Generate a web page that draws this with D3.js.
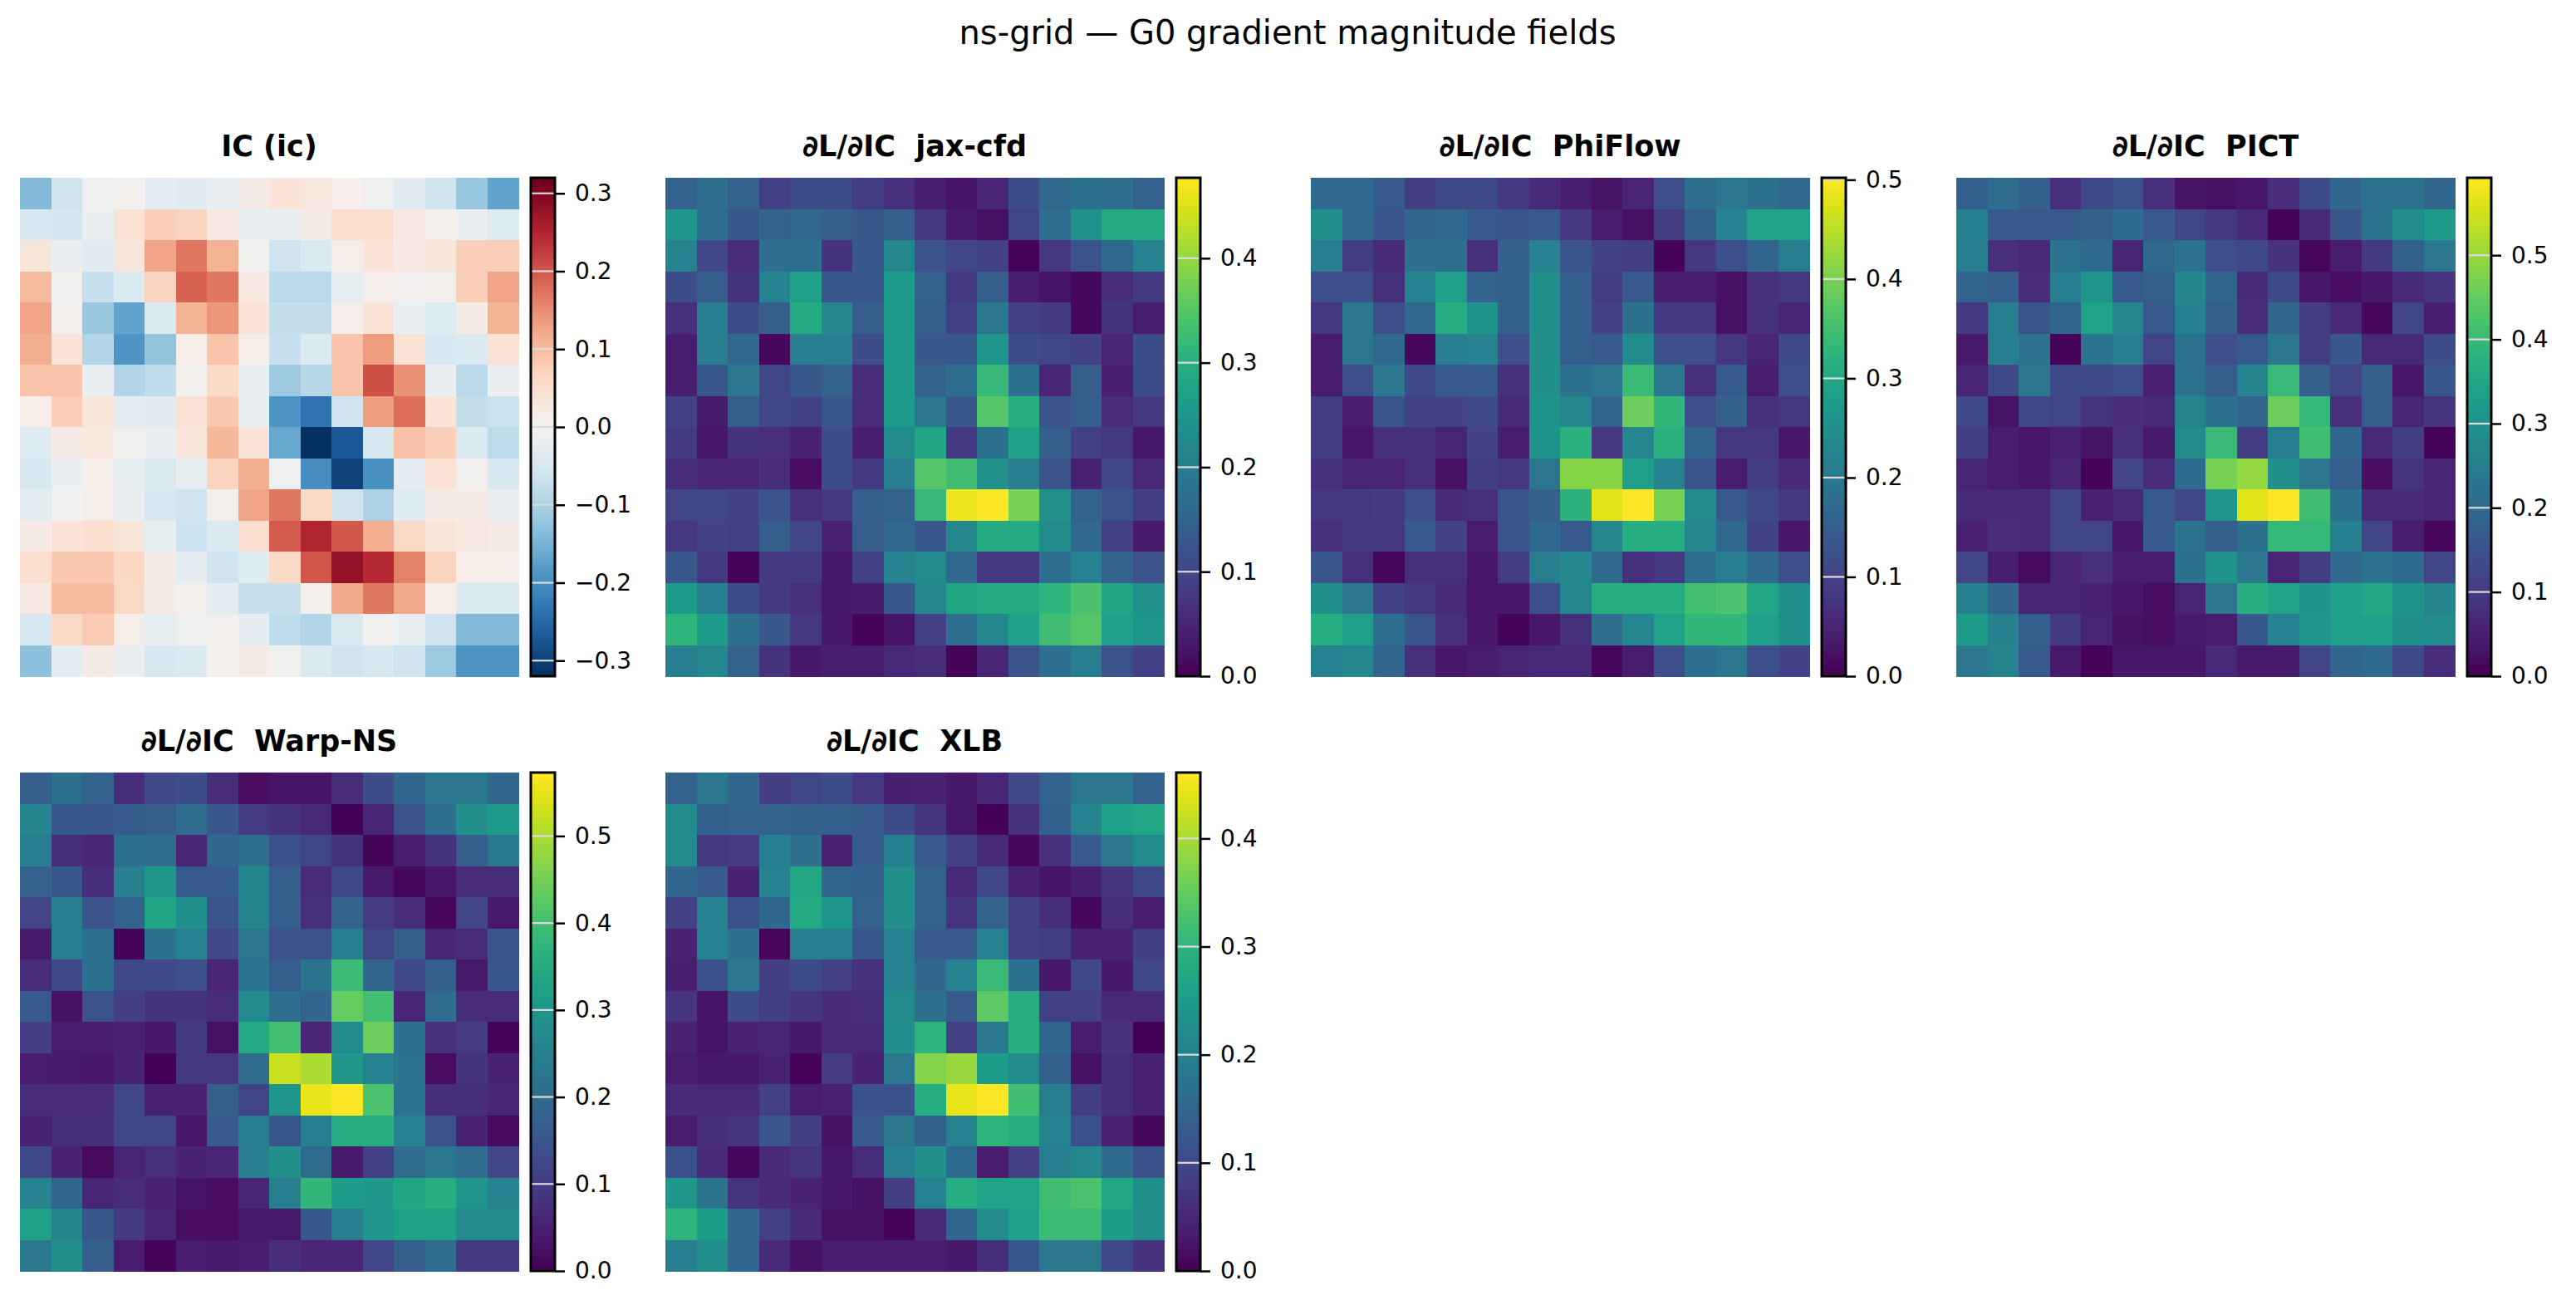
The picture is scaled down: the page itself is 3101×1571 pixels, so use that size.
<!DOCTYPE html>
<html>
<head>
<meta charset="utf-8">
<script src="https://cdn.jsdelivr.net/npm/d3@7"></script>
<style>
  html, body { margin: 0; padding: 0; background: #fff; }
  svg { display: block; }
  text { font-family: "DejaVu Sans", sans-serif; }
</style>
</head>
<body>
<div id="chart"></div>
<script>
// ---------------- DATA ----------------
const figureTitle = "ns-grid \u2014 G0 gradient magnitude fields";
const panelTitles = ["IC (ic)", "\u2202L/\u2202IC  jax-cfd", "\u2202L/\u2202IC  PhiFlow", "\u2202L/\u2202IC  PICT", "\u2202L/\u2202IC  Warp-NS", "\u2202L/\u2202IC  XLB"];

const icTicks = [-0.3, -0.2, -0.1, 0.0, 0.1, 0.2, 0.3];
const jaxTicks = [0.0, 0.1, 0.2, 0.3, 0.4];
const phiflowTicks = [0.0, 0.1, 0.2, 0.3, 0.4, 0.5];
const pictTicks = [0.0, 0.1, 0.2, 0.3, 0.4, 0.5];
const warpTicks = [0.0, 0.1, 0.2, 0.3, 0.4, 0.5];
const xlbTicks = [0.0, 0.1, 0.2, 0.3, 0.4];

const icField = [
  [-0.14,-0.06,-0.01,0.005,-0.03,-0.035,-0.02,0.02,0.04,0.03,0.01,-0.01,-0.035,-0.06,-0.12,-0.17],
  [-0.05,-0.055,-0.015,0.045,0.075,0.07,0.025,-0.02,-0.02,0.02,0.05,0.05,0.025,0.005,-0.015,-0.04],
  [0.035,-0.02,-0.035,0.035,0.125,0.17,0.11,-0.005,-0.06,-0.045,0.015,0.04,0.025,0.035,0.075,0.075],
  [0.1,-0.005,-0.07,-0.045,0.07,0.19,0.17,0.025,-0.085,-0.085,-0.025,0.01,0.0,0.005,0.075,0.125],
  [0.125,0.003,-0.12,-0.17,-0.045,0.11,0.14,0.04,-0.075,-0.075,0.01,0.04,-0.02,-0.04,0.02,0.11],
  [0.115,0.04,-0.095,-0.19,-0.125,0.015,0.09,0.015,-0.07,-0.045,0.09,0.135,0.045,-0.05,-0.045,0.045],
  [0.09,0.09,-0.02,-0.095,-0.08,0.005,0.06,-0.02,-0.115,-0.09,0.09,0.205,0.145,-0.02,-0.085,-0.015],
  [0.015,0.075,0.035,-0.03,-0.035,0.045,0.085,-0.015,-0.19,-0.235,-0.06,0.135,0.18,0.04,-0.075,-0.065],
  [-0.04,0.02,0.03,-0.002,-0.02,0.035,0.105,0.04,-0.165,-0.32,-0.27,-0.05,0.095,0.075,-0.045,-0.08],
  [-0.05,-0.02,0.015,-0.025,-0.045,-0.025,0.07,0.115,-0.01,-0.2,-0.3,-0.195,-0.03,0.045,-0.002,-0.05],
  [-0.03,-0.005,0.015,-0.02,-0.05,-0.06,0.002,0.125,0.17,0.06,-0.06,-0.1,-0.04,0.02,0.02,-0.015],
  [0.02,0.04,0.05,0.035,-0.025,-0.065,-0.045,0.05,0.195,0.25,0.2,0.115,0.06,0.035,0.025,0.02],
  [0.05,0.085,0.085,0.065,0.02,-0.03,-0.06,-0.04,0.06,0.2,0.28,0.245,0.16,0.07,0.015,0.015],
  [0.025,0.1,0.1,0.06,0.02,0.005,-0.03,-0.07,-0.07,0.002,0.12,0.17,0.12,0.015,-0.045,-0.045],
  [-0.05,0.06,0.08,0.015,-0.025,-0.01,0.005,-0.03,-0.08,-0.095,-0.045,-0.003,-0.02,-0.06,-0.14,-0.14],
  [-0.13,-0.03,0.02,-0.015,-0.05,-0.045,0.002,0.02,-0.005,-0.045,-0.06,-0.05,-0.06,-0.115,-0.19,-0.19]
];

const jaxField = [
  [0.15,0.17,0.15,0.09,0.11,0.11,0.085,0.065,0.04,0.025,0.05,0.11,0.16,0.18,0.17,0.15],
  [0.25,0.17,0.13,0.15,0.16,0.14,0.13,0.14,0.075,0.035,0.02,0.1,0.17,0.24,0.29,0.29],
  [0.21,0.1,0.06,0.17,0.17,0.07,0.13,0.22,0.12,0.1,0.09,0.005,0.075,0.12,0.16,0.21],
  [0.11,0.14,0.07,0.21,0.27,0.13,0.13,0.26,0.15,0.08,0.14,0.04,0.025,0.01,0.06,0.08],
  [0.065,0.2,0.11,0.14,0.29,0.22,0.14,0.26,0.14,0.09,0.19,0.09,0.08,0.01,0.07,0.04],
  [0.04,0.2,0.16,0.01,0.2,0.2,0.11,0.26,0.13,0.13,0.25,0.11,0.1,0.09,0.05,0.11],
  [0.04,0.13,0.19,0.1,0.13,0.15,0.06,0.26,0.15,0.17,0.32,0.18,0.05,0.14,0.04,0.11],
  [0.09,0.035,0.14,0.1,0.09,0.13,0.06,0.26,0.19,0.13,0.35,0.3,0.12,0.14,0.06,0.08],
  [0.08,0.03,0.07,0.065,0.045,0.11,0.04,0.23,0.28,0.08,0.18,0.27,0.14,0.09,0.08,0.03],
  [0.06,0.05,0.05,0.06,0.015,0.11,0.08,0.2,0.35,0.33,0.24,0.2,0.12,0.045,0.1,0.055],
  [0.1,0.1,0.095,0.12,0.065,0.08,0.14,0.15,0.32,0.465,0.477,0.38,0.24,0.15,0.12,0.085],
  [0.075,0.095,0.09,0.14,0.1,0.045,0.14,0.16,0.13,0.22,0.29,0.29,0.23,0.16,0.09,0.035],
  [0.13,0.08,0.005,0.08,0.08,0.03,0.09,0.21,0.23,0.16,0.08,0.08,0.17,0.21,0.15,0.12],
  [0.26,0.2,0.11,0.08,0.065,0.03,0.035,0.13,0.22,0.28,0.29,0.29,0.31,0.34,0.28,0.24],
  [0.31,0.26,0.18,0.13,0.075,0.03,0.005,0.025,0.09,0.17,0.22,0.27,0.33,0.35,0.27,0.25],
  [0.2,0.22,0.15,0.07,0.03,0.04,0.04,0.055,0.06,0.005,0.05,0.12,0.17,0.2,0.12,0.09]
];

const phiflowField = [
  [0.17,0.17,0.14,0.09,0.11,0.11,0.085,0.06,0.045,0.025,0.05,0.12,0.18,0.2,0.19,0.17],
  [0.25,0.17,0.13,0.16,0.17,0.14,0.13,0.14,0.08,0.04,0.02,0.09,0.15,0.22,0.29,0.29],
  [0.21,0.09,0.06,0.18,0.18,0.07,0.15,0.22,0.13,0.1,0.09,0.005,0.08,0.12,0.16,0.21],
  [0.12,0.12,0.07,0.22,0.28,0.16,0.15,0.25,0.15,0.09,0.14,0.04,0.04,0.02,0.07,0.08],
  [0.08,0.2,0.12,0.17,0.31,0.26,0.15,0.25,0.15,0.1,0.19,0.08,0.08,0.02,0.07,0.05],
  [0.04,0.2,0.17,0.01,0.21,0.22,0.12,0.25,0.15,0.14,0.24,0.12,0.12,0.08,0.05,0.11],
  [0.04,0.12,0.2,0.11,0.14,0.14,0.07,0.25,0.19,0.2,0.34,0.2,0.07,0.14,0.04,0.12],
  [0.09,0.04,0.13,0.1,0.1,0.11,0.06,0.26,0.23,0.16,0.39,0.33,0.12,0.15,0.07,0.08],
  [0.09,0.03,0.07,0.07,0.05,0.1,0.04,0.26,0.32,0.08,0.23,0.32,0.16,0.08,0.08,0.03],
  [0.07,0.05,0.05,0.07,0.02,0.09,0.08,0.2,0.41,0.41,0.28,0.22,0.13,0.04,0.09,0.06],
  [0.08,0.08,0.085,0.12,0.06,0.07,0.13,0.15,0.32,0.48,0.502,0.4,0.24,0.14,0.11,0.08],
  [0.07,0.08,0.08,0.14,0.1,0.04,0.13,0.17,0.14,0.23,0.31,0.31,0.23,0.17,0.1,0.03],
  [0.13,0.07,0.01,0.07,0.07,0.03,0.09,0.21,0.23,0.17,0.07,0.08,0.18,0.21,0.17,0.12],
  [0.25,0.2,0.1,0.08,0.06,0.03,0.03,0.12,0.23,0.31,0.31,0.31,0.35,0.36,0.3,0.25],
  [0.31,0.28,0.18,0.13,0.07,0.03,0.005,0.03,0.07,0.18,0.23,0.29,0.33,0.33,0.28,0.25],
  [0.22,0.23,0.16,0.07,0.03,0.04,0.05,0.06,0.06,0.01,0.04,0.12,0.18,0.2,0.12,0.1]
];

const pictField = [
  [0.18,0.21,0.18,0.08,0.13,0.15,0.08,0.03,0.025,0.035,0.075,0.135,0.195,0.225,0.225,0.195],
  [0.255,0.165,0.165,0.165,0.175,0.205,0.165,0.12,0.095,0.065,0.005,0.07,0.16,0.225,0.285,0.325],
  [0.25,0.08,0.065,0.225,0.205,0.06,0.2,0.225,0.14,0.13,0.085,0.01,0.045,0.1,0.18,0.235],
  [0.19,0.175,0.075,0.25,0.31,0.17,0.175,0.27,0.19,0.07,0.13,0.035,0.02,0.035,0.07,0.09],
  [0.1,0.25,0.155,0.195,0.34,0.275,0.165,0.255,0.175,0.075,0.19,0.105,0.065,0.01,0.12,0.05],
  [0.04,0.25,0.225,0.005,0.225,0.25,0.12,0.225,0.14,0.165,0.235,0.105,0.16,0.065,0.07,0.135],
  [0.06,0.13,0.235,0.13,0.13,0.14,0.055,0.225,0.175,0.265,0.4,0.175,0.12,0.175,0.035,0.16],
  [0.13,0.03,0.13,0.12,0.09,0.075,0.07,0.265,0.22,0.19,0.46,0.395,0.08,0.175,0.06,0.09],
  [0.11,0.045,0.035,0.055,0.03,0.08,0.04,0.285,0.4,0.105,0.25,0.41,0.195,0.07,0.105,0.005],
  [0.06,0.045,0.035,0.06,0.005,0.12,0.075,0.205,0.47,0.495,0.295,0.235,0.175,0.02,0.09,0.06],
  [0.07,0.07,0.07,0.12,0.055,0.065,0.165,0.125,0.31,0.565,0.592,0.41,0.22,0.07,0.07,0.06],
  [0.055,0.075,0.07,0.12,0.12,0.035,0.165,0.225,0.175,0.22,0.395,0.395,0.255,0.12,0.05,0.01],
  [0.12,0.05,0.015,0.06,0.08,0.045,0.045,0.22,0.305,0.235,0.06,0.105,0.2,0.225,0.205,0.12],
  [0.255,0.195,0.06,0.06,0.055,0.035,0.02,0.06,0.235,0.37,0.34,0.305,0.335,0.355,0.305,0.265],
  [0.325,0.255,0.175,0.1,0.06,0.025,0.02,0.04,0.045,0.16,0.26,0.31,0.335,0.335,0.295,0.285],
  [0.235,0.265,0.165,0.04,0.005,0.035,0.035,0.035,0.065,0.04,0.04,0.12,0.19,0.205,0.13,0.075]
];

const warpField = [
  [0.17,0.21,0.18,0.075,0.125,0.13,0.07,0.02,0.03,0.03,0.07,0.13,0.19,0.23,0.23,0.19],
  [0.26,0.155,0.155,0.165,0.17,0.2,0.155,0.1,0.085,0.065,0.003,0.06,0.145,0.21,0.285,0.315],
  [0.24,0.075,0.06,0.21,0.2,0.06,0.19,0.21,0.14,0.115,0.085,0.008,0.045,0.085,0.17,0.235],
  [0.175,0.155,0.075,0.24,0.305,0.16,0.16,0.26,0.17,0.07,0.125,0.04,0.012,0.035,0.07,0.07],
  [0.115,0.245,0.145,0.18,0.34,0.285,0.15,0.26,0.17,0.08,0.18,0.1,0.07,0.01,0.115,0.04],
  [0.04,0.245,0.21,0.005,0.21,0.255,0.125,0.23,0.145,0.145,0.245,0.115,0.17,0.06,0.07,0.15],
  [0.07,0.125,0.215,0.125,0.125,0.135,0.06,0.22,0.17,0.22,0.39,0.185,0.125,0.17,0.04,0.155],
  [0.16,0.025,0.145,0.105,0.085,0.085,0.07,0.275,0.205,0.185,0.435,0.4,0.06,0.2,0.07,0.07],
  [0.105,0.045,0.045,0.055,0.035,0.095,0.025,0.345,0.4,0.06,0.275,0.445,0.215,0.08,0.1,0.005],
  [0.045,0.04,0.035,0.055,0.003,0.09,0.09,0.2,0.525,0.5,0.305,0.255,0.22,0.02,0.085,0.055],
  [0.07,0.07,0.07,0.125,0.055,0.055,0.17,0.115,0.3,0.555,0.573,0.41,0.22,0.075,0.075,0.06],
  [0.055,0.075,0.075,0.125,0.115,0.035,0.16,0.24,0.155,0.245,0.355,0.355,0.255,0.145,0.055,0.015],
  [0.125,0.055,0.015,0.06,0.08,0.055,0.06,0.24,0.285,0.2,0.04,0.11,0.2,0.23,0.2,0.115],
  [0.255,0.19,0.06,0.07,0.055,0.03,0.02,0.06,0.245,0.375,0.315,0.305,0.34,0.36,0.3,0.255],
  [0.325,0.26,0.155,0.095,0.06,0.02,0.02,0.04,0.04,0.155,0.24,0.3,0.325,0.325,0.275,0.275],
  [0.23,0.285,0.17,0.045,0.005,0.045,0.04,0.045,0.07,0.06,0.06,0.115,0.17,0.2,0.095,0.095]
];

const xlbField = [
  [0.145,0.185,0.15,0.085,0.095,0.105,0.075,0.04,0.045,0.03,0.05,0.1,0.145,0.185,0.185,0.145],
  [0.22,0.14,0.145,0.145,0.14,0.14,0.13,0.105,0.07,0.03,0.003,0.065,0.14,0.205,0.26,0.275],
  [0.22,0.075,0.08,0.195,0.17,0.045,0.13,0.2,0.13,0.09,0.055,0.01,0.065,0.13,0.185,0.22],
  [0.15,0.13,0.045,0.205,0.275,0.15,0.14,0.23,0.145,0.055,0.1,0.045,0.025,0.04,0.07,0.1],
  [0.09,0.205,0.115,0.15,0.28,0.24,0.145,0.23,0.145,0.07,0.145,0.09,0.06,0.01,0.06,0.035],
  [0.045,0.205,0.17,0.008,0.195,0.195,0.125,0.205,0.13,0.13,0.205,0.09,0.085,0.045,0.045,0.085],
  [0.04,0.115,0.185,0.085,0.105,0.09,0.065,0.205,0.15,0.205,0.31,0.17,0.03,0.1,0.03,0.1],
  [0.07,0.025,0.105,0.085,0.07,0.055,0.06,0.22,0.17,0.13,0.345,0.285,0.09,0.09,0.055,0.055],
  [0.045,0.025,0.045,0.05,0.03,0.055,0.055,0.23,0.3,0.09,0.185,0.29,0.15,0.035,0.065,0.003],
  [0.035,0.03,0.03,0.045,0.005,0.08,0.045,0.185,0.375,0.39,0.255,0.22,0.14,0.02,0.06,0.045],
  [0.055,0.055,0.055,0.09,0.035,0.045,0.115,0.115,0.285,0.445,0.461,0.32,0.195,0.085,0.06,0.045],
  [0.035,0.06,0.07,0.12,0.085,0.02,0.13,0.185,0.14,0.205,0.3,0.285,0.205,0.115,0.045,0.01],
  [0.115,0.055,0.01,0.055,0.07,0.03,0.06,0.195,0.23,0.16,0.035,0.09,0.195,0.215,0.16,0.115],
  [0.245,0.175,0.07,0.055,0.045,0.03,0.02,0.085,0.205,0.285,0.265,0.265,0.32,0.33,0.275,0.23],
  [0.3,0.255,0.15,0.09,0.055,0.02,0.02,0.005,0.055,0.15,0.22,0.26,0.315,0.315,0.255,0.23],
  [0.195,0.23,0.15,0.055,0.02,0.035,0.035,0.035,0.035,0.03,0.06,0.125,0.185,0.185,0.1,0.065]
];

// ---------------- LAYOUT ----------------
const W = 3101, H = 1571;
const SIZE = 600;
const colX = [24, 801, 1578, 2355];
const rowY = [214, 930];

const panels = [
  { title: panelTitles[0], field: icField, ticks: icTicks, diverging: true, col: 0, row: 0 },
  { title: panelTitles[1], field: jaxField, ticks: jaxTicks, col: 1, row: 0 },
  { title: panelTitles[2], field: phiflowField, ticks: phiflowTicks, col: 2, row: 0 },
  { title: panelTitles[3], field: pictField, ticks: pictTicks, col: 3, row: 0 },
  { title: panelTitles[4], field: warpField, ticks: warpTicks, col: 0, row: 1 },
  { title: panelTitles[5], field: xlbField, ticks: xlbTicks, col: 1, row: 1 }
];

const svg = d3.select("#chart").append("svg")
  .attr("width", W).attr("height", H)
  .attr("viewBox", `0 0 ${W} ${H}`);

svg.append("rect").attr("width", W).attr("height", H).attr("fill", "#fff");

svg.append("text")
  .attr("x", 1550).attr("y", 53)
  .attr("text-anchor", "middle")
  .attr("font-size", 40)
  .attr("fill", "#000")
  .text(figureTitle);

const defs = svg.append("defs");

panels.forEach((p, pi) => {
  const n = p.field.length;
  const flat = p.field.flat();
  let vmin, vmax, color;
  if (p.diverging) {
    const m = d3.max(flat, v => Math.abs(v));
    vmin = -m; vmax = m;
    color = d3.scaleSequential(t => d3.interpolateRdBu(1 - t)).domain([vmin, vmax]);
  } else {
    vmin = 0; vmax = d3.max(flat);
    color = d3.scaleSequential(d3.interpolateViridis).domain([vmin, vmax]);
  }

  const g = svg.append("g").attr("transform", `translate(${colX[p.col]},${rowY[p.row]})`);

  g.append("text")
    .attr("x", SIZE / 2).attr("y", -26)
    .attr("text-anchor", "middle")
    .attr("font-size", 35)
    .attr("font-weight", "bold")
    .attr("fill", "#000")
    .style("white-space", "pre")
    .text(p.title);

  const x = d3.scaleBand().domain(d3.range(n)).range([0, SIZE]);
  const y = d3.scaleBand().domain(d3.range(n)).range([0, SIZE]);

  const cells = [];
  p.field.forEach((row, r) => row.forEach((v, c) => cells.push({ r, c, v })));

  g.append("g").selectAll("rect").data(cells).join("rect")
    .attr("x", d => x(d.c))
    .attr("y", d => y(d.r))
    .attr("width", x.bandwidth() + 0.5)
    .attr("height", y.bandwidth() + 0.5)
    .attr("shape-rendering", "crispEdges")
    .attr("fill", d => color(d.v));

  // colorbar
  const cbW = 29, cbX = SIZE + 15;
  const cbScale = d3.scaleLinear().domain([vmin, vmax]).range([SIZE, 0]);
  const gradId = "grad" + pi;
  const grad = defs.append("linearGradient").attr("id", gradId)
    .attr("x1", 0).attr("y1", 0).attr("x2", 0).attr("y2", 1);
  const NS = 128;
  d3.range(NS + 1).forEach(i => {
    const o = i / NS;
    grad.append("stop").attr("offset", o).attr("stop-color", color(vmax - o * (vmax - vmin)));
  });
  const cb = g.append("g").attr("transform", `translate(${cbX},0)`);
  cb.append("rect").attr("width", cbW).attr("height", SIZE).attr("fill", `url(#${gradId})`);
  cb.selectAll("line.inner").data(p.ticks).join("line")
    .attr("class", "inner")
    .attr("x1", 0).attr("x2", cbW)
    .attr("y1", d => cbScale(d)).attr("y2", d => cbScale(d))
    .attr("stroke", "#dcdcdc").attr("stroke-width", 2.2);
  cb.append("rect").attr("width", cbW).attr("height", SIZE)
    .attr("fill", "none").attr("stroke", "#000").attr("stroke-width", 3);

  const axis = d3.axisRight(cbScale).tickValues(p.ticks)
    .tickFormat(d3.format(".1f")).tickSize(12).tickPadding(12);
  const ax = cb.append("g").attr("transform", `translate(${cbW},0)`).call(axis);
  ax.select(".domain").remove();
  ax.selectAll(".tick line").attr("stroke", "#000").attr("stroke-width", 2.5);
  ax.selectAll(".tick text")
    .attr("font-size", 28)
    .attr("font-family", "DejaVu Sans, sans-serif")
    .attr("fill", "#000");
});
</script>
</body>
</html>
